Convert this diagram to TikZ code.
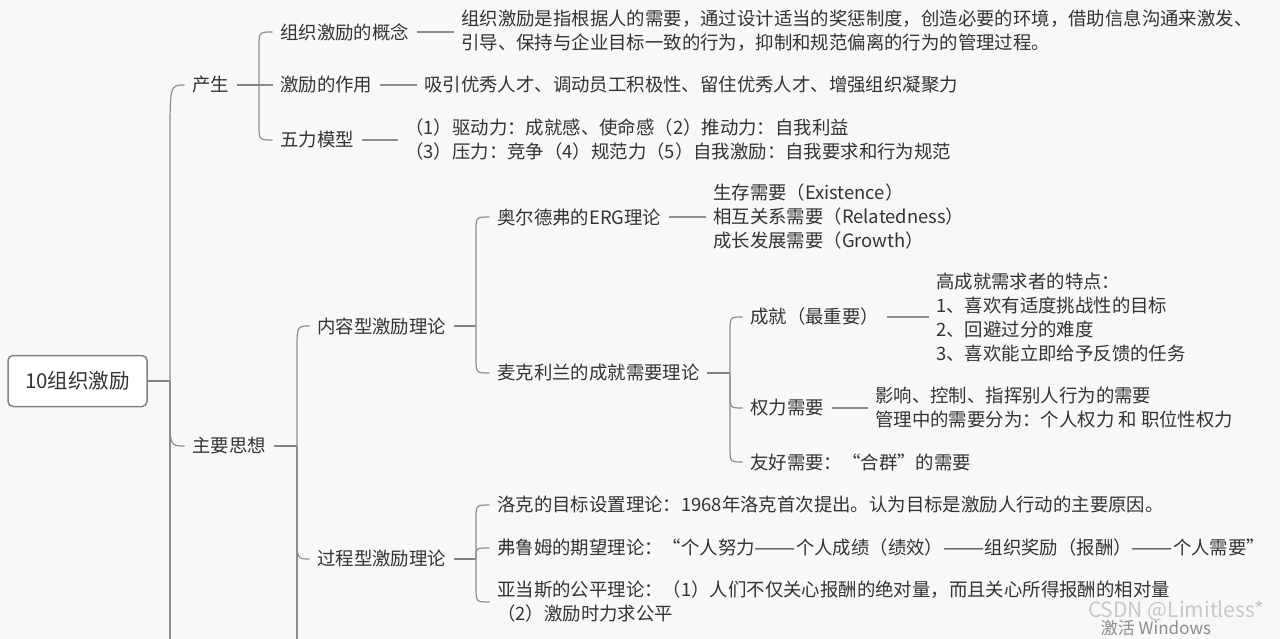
\documentclass[tikz,border=0pt]{standalone}
\usepackage{fontspec}
\usepackage{graphicx}
\setmainfont{Noto Sans CJK SC}
\definecolor{txt}{HTML}{333333}
\definecolor{lc}{HTML}{8E8E8E}
\definecolor{lc2}{HTML}{828282}
\definecolor{bg}{HTML}{F8F8F8}
\newcommand{\ldash}{\scalebox{1.34}[1]{——}}
\begin{document}
\begin{tikzpicture}[x=1pt,y=-1pt,
  t/.style={anchor=west, inner xsep=7.5pt, inner ysep=2pt, text=txt, font=\fontsize{18.4}{24}\selectfont},
  blk/.style={t, align=left},
  brk/.style={draw=lc, line width=1.2pt},
  stub/.style={draw=lc2, line width=2pt},
  conn/.style={draw=lc, line width=1.2pt}]
\useasboundingbox (0,0) rectangle (1280,639);
\clip (0,0) rectangle (1280,639);
\fill[bg] (0,0) rectangle (1280,639);

% root
\node[draw=lc2, line width=1.5pt, fill=white, rounded corners=5pt, minimum width=139pt, minimum height=51pt, inner sep=0pt,
  font=\fontsize{20.5}{24}\selectfont, text=txt] (root) at (77.5,381) {10组织激励};

% level 1
\node[t] (cs) at (184.5,85) {产生};
\node[t] (zy) at (184.5,446) {主要思想};
\coordinate (rj) at (170,381);
\coordinate (rend) at (170,660);
\draw[stub] (root.east) -- (rj);
\draw[brk] (rj) -- (170,140) .. controls (170,85) .. (cs.west);
\draw[brk] (rj) -- (170,411) .. controls (170,446) .. (zy.west);
\draw[brk] (rj) -- (rend);

% 产生 children
\node[t] (gn) at (272.5,32) {组织激励的概念};
\node[t] (zyong) at (272.5,85) {激励的作用};
\node[t] (wl) at (272.5,140) {五力模型};
\coordinate (cj1) at (259,85);
\draw[stub] (cs.east) -- (cj1);
\draw[brk] (cj1) -- (259,47) .. controls (259,32) .. (gn.west);
\draw[brk] (cj1) -- (zyong.west);
\draw[brk] (cj1) -- (259,125) .. controls (259,140) .. (wl.west);

\node[blk] (gnt) at (453.5,30.5) {组织激励是指根据人的需要，通过设计适当的奖惩制度，创造必要的环境，借助信息沟通来激发、\\引导、保持与企业目标一致的行为，抑制和规范偏离的行为的管理过程。};
\draw[conn] (gn.east) -- (gn.east -| gnt.west);
\node[t] (zyt) at (416.5,85) {吸引优秀人才、调动员工积极性、留住优秀人才、增强组织凝聚力};
\draw[conn] (zyong.east) -- (zyt.west);
\node[blk] (wlt) at (397.5,139.5) {（1）驱动力：成就感、使命感（2）推动力：自我利益\\（3）压力：竞争（4）规范力（5）自我激励：自我要求和行为规范};
\draw[conn] (wl.east) -- (wl.east -| wlt.west);

% 主要思想 children
\node[t] (nr) at (309.5,326) {内容型激励理论};
\node[t] (gc) at (309.5,559) {过程型激励理论};
\coordinate (zj) at (297,446);
\coordinate (zend) at (297,660);
\draw[stub] (zy.east) -- (zj);
\draw[brk] (zj) -- (297,351) .. controls (297,326) .. (nr.west);
\draw[brk] (zj) -- (297,534) .. controls (297,559) .. (gc.west);
\draw[brk] (zj) -- (zend);

% 内容型 children
\node[t] (erg) at (489.5,217) {奥尔德弗的ERG理论};
\node[t] (mkl) at (489.5,373) {麦克利兰的成就需要理论};
\coordinate (nj) at (476,326);
\draw[stub] (nr.east) -- (nj);
\draw[brk] (nj) -- (476,232) .. controls (476,217) .. (erg.west);
\draw[brk] (nj) -- (476,358) .. controls (476,373) .. (mkl.west);

\node[blk] (ergt) at (705.5,217) {生存需要（Existence）\\相互关系需要（Relatedness）\\成长发展需要（Growth）};
\draw[conn] (erg.east) -- (erg.east -| ergt.west);

% 麦克利兰 children
\node[t] (cj) at (742.5,317) {成就（最重要）};
\node[t] (ql) at (742.5,408) {权力需要};
\node[t] (yh) at (742.5,462) {友好需要：“合群”的需要};
\coordinate (mj) at (730,373);
\draw[stub] (mkl.east) -- (mj);
\draw[brk] (mj) -- (730,332) .. controls (730,317) .. (cj.west);
\draw[brk] (mj) -- (730,393) .. controls (730,408) .. (ql.west);
\draw[brk] (mj) -- (730,447) .. controls (730,462) .. (yh.west);

\node[blk] (cjt) at (928.5,317.5) {高成就需求者的特点：\\1、喜欢有适度挑战性的目标\\2、回避过分的难度\\3、喜欢能立即给予反馈的任务};
\draw[conn] (cj.east) -- (cj.east -| cjt.west);
\node[blk] (qlt) at (867.5,408) {影响、控制、指挥别人行为的需要\\管理中的需要分为：个人权力 和 职位性权力};
\draw[conn] (ql.east) -- (ql.east -| qlt.west);

% 过程型 children
\node[t] (lk) at (489.5,505) {洛克的目标设置理论：1968年洛克首次提出。认为目标是激励人行动的主要原因。};
\node[t] (fl) at (489.5,548) {弗鲁姆的期望理论：“个人努力\ldash 个人成绩（绩效）\ldash 组织奖励（报酬）\ldash 个人需要”};
\node[blk] (ad) at (489.5,602) {亚当斯的公平理论：（1）人们不仅关心报酬的绝对量，而且关心所得报酬的相对量\\（2）激励时力求公平};
\coordinate (gj) at (476,559);
\draw[stub] (gc.east) -- (gj);
\draw[brk] (gj) -- (476,520) .. controls (476,505) .. (lk.west);
\draw[brk] (gj) -- (476,556) .. controls (476,548) .. (fl.west);
\draw[brk] (gj) -- (476,587) .. controls (476,602) .. (ad.west);

% watermarks
\node[text=black!22, font=\fontsize{21}{24}\selectfont, inner sep=0pt] (wm1) at (1176,611) {CSDN @Limitless*};
\node[text=black!45, font=\fontsize{17}{24}\selectfont, inner sep=0pt] (wm2) at (1156,628) {激活 Windows};
\end{tikzpicture}
\end{document}
